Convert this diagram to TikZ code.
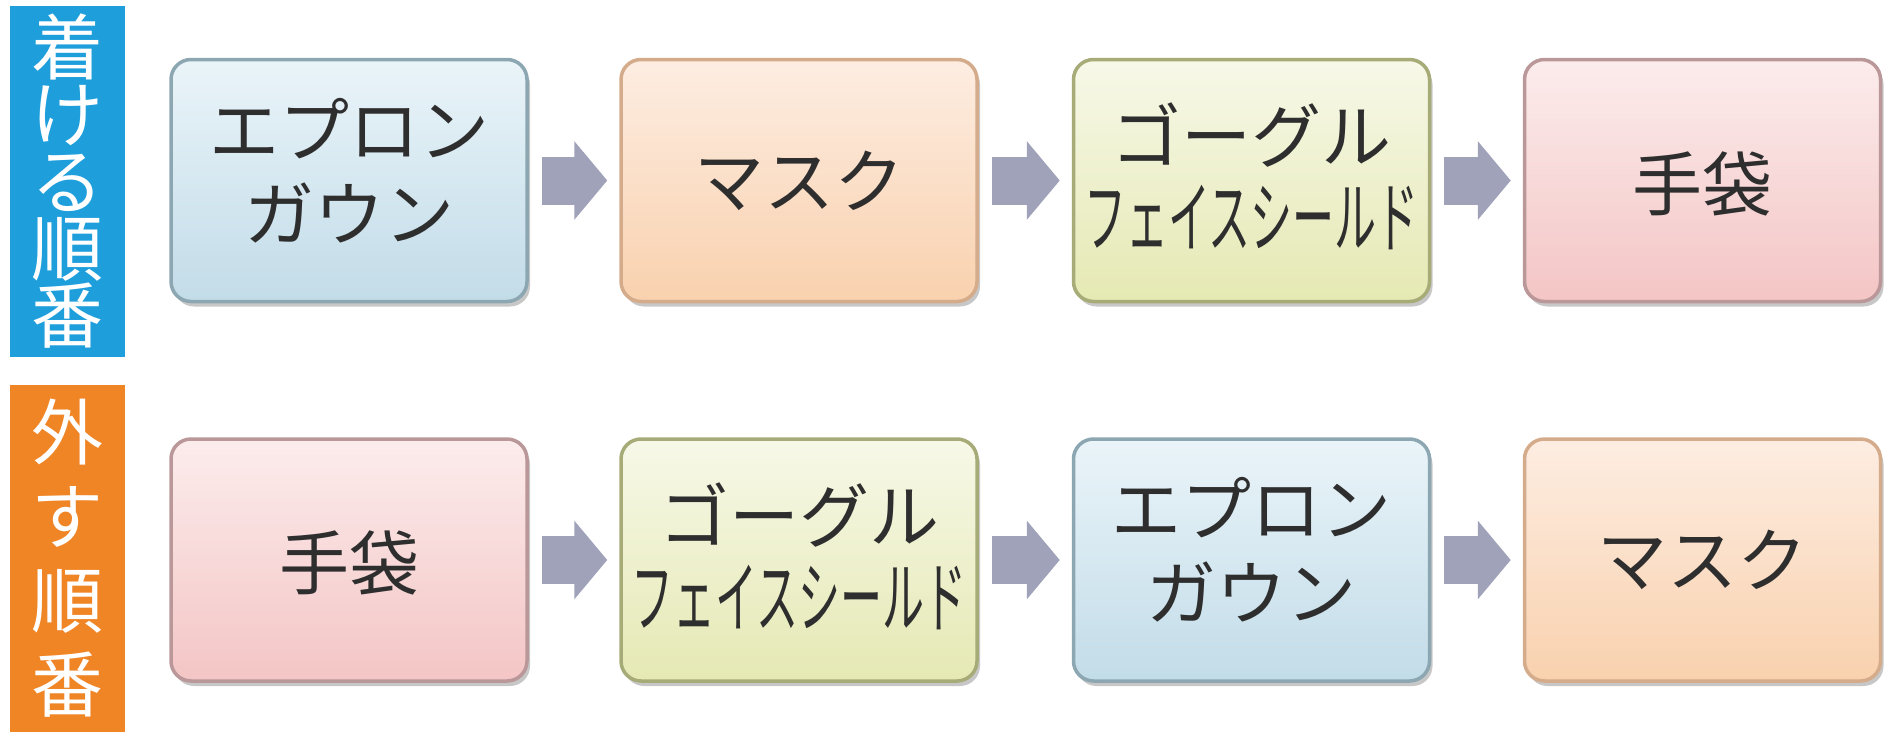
\documentclass[tikz,border=0pt]{standalone}
\usepackage{fontspec}
\usepackage{graphicx}
\newfontfamily\jp{Noto Sans CJK JP}
\usetikzlibrary{shadows,arrows.meta}
\definecolor{lblblue}{HTML}{1E9FDC}
\definecolor{lblorange}{HTML}{F08526}
\definecolor{arrowgray}{HTML}{9FA2B8}
\definecolor{txt}{HTML}{2E2E2E}
\definecolor{bT}{HTML}{EAF4F9}\definecolor{bB}{HTML}{C2DCE8}\definecolor{bD}{HTML}{8CA6B2}
\definecolor{pT}{HTML}{FDEDE2}\definecolor{pB}{HTML}{F9D1AE}\definecolor{pD}{HTML}{D4AC8C}
\definecolor{yT}{HTML}{F7F8E8}\definecolor{yB}{HTML}{E5E9B3}\definecolor{yD}{HTML}{A7AB78}
\definecolor{kT}{HTML}{FCECEC}\definecolor{kB}{HTML}{F4C5C5}\definecolor{kD}{HTML}{BA9799}
\tikzset{
  stepbox/.style={rounded corners=20pt, minimum width=356pt, minimum height=242pt,
    line width=3.5pt, inner sep=0pt,
    drop shadow={shadow xshift=3pt, shadow yshift=-5pt, opacity=0.22, fill=black}},
  bluebox/.style={stepbox, top color=bT, bottom color=bB, draw=bD},
  peachbox/.style={stepbox, top color=pT, bottom color=pB, draw=pD},
  yellowbox/.style={stepbox, top color=yT, bottom color=yB, draw=yD},
  pinkbox/.style={stepbox, top color=kT, bottom color=kB, draw=kD},
  boxtext/.style={inner sep=0pt, align=center, text=txt,
    font=\jp\fontsize{70}{84}\selectfont},
  lbl/.style={minimum width=115pt, inner sep=0pt, text=white, align=center},
  flow/.style={draw=arrowgray, line width=48pt,
    -{Triangle[length=33pt, width=77pt]}, shorten <=13pt, shorten >=12pt}
}
\newcommand{\fshield}{\scalebox{0.6}[1.12]{フェイスシールド}}
\begin{document}
\begin{tikzpicture}[x=1pt,y=1pt]
\useasboundingbox (0,0) rectangle (1898,-736);
% labels
\node[lbl, fill=lblblue, minimum height=351pt, font=\jp\fontsize{72}{67}\selectfont] (on) at (67.5,-181.5) {着\\け\\る\\順\\番};
\node[lbl, fill=lblorange, minimum height=347pt, font=\jp\fontsize{72}{84}\selectfont] (off) at (67.5,-558.5) {外\\す\\順\\番};
% row 1
\node[bluebox]   (a1) at (349,-180.5) {};
\node[peachbox]  (a2) at (799,-180.5) {};
\node[yellowbox] (a3) at (1251.5,-180.5) {};
\node[pinkbox]   (a4) at (1702.5,-180.5) {};
% row 2
\node[pinkbox]   (b1) at (349,-560) {};
\node[yellowbox] (b2) at (799,-560) {};
\node[bluebox]   (b3) at (1251.5,-560) {};
\node[peachbox]  (b4) at (1702.5,-560) {};
% texts
\node[boxtext] (ta1) at ([yshift=10pt]a1.center) {エプロン\\ガウン};
\node[boxtext] (ta2) at (a2.center) {マスク};
\node[boxtext] (ta3) at ([yshift=4pt]a3.center) {ゴーグル\\\fshield};
\node[boxtext] (ta4) at ([yshift=-3pt]a4.center) {手袋};
\node[boxtext] (tb1) at ([yshift=-3pt]b1.center) {手袋};
\node[boxtext] (tb2) at ([yshift=4pt]b2.center) {ゴーグル\\\fshield};
\node[boxtext] (tb3) at ([yshift=10pt]b3.center) {エプロン\\ガウン};
\node[boxtext] (tb4) at (b4.center) {マスク};
% arrows
\draw[flow] (a1.east) -- (a2.west);
\draw[flow] (a2.east) -- (a3.west);
\draw[flow] (a3.east) -- (a4.west);
\draw[flow] (b1.east) -- (b2.west);
\draw[flow] (b2.east) -- (b3.west);
\draw[flow] (b3.east) -- (b4.west);
\end{tikzpicture}
\end{document}
